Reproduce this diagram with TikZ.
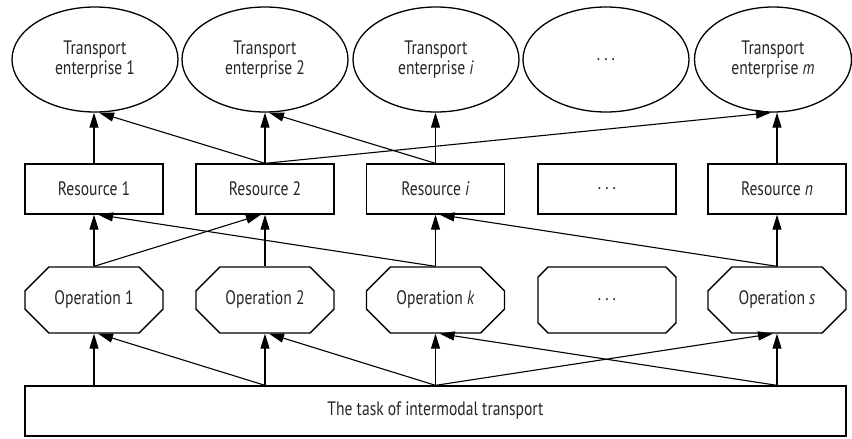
\documentclass[tikz,border=0pt]{standalone}
\usepackage{fontspec}
\setmainfont[FakeStretch=0.8]{PT Sans}
\usetikzlibrary{shapes.geometric,shapes.misc,arrows.meta}
\begin{document}
\begin{tikzpicture}[x=1pt,y=-1pt,
  every node/.style={font=\fontsize{19.5}{19.5}\selectfont, text=black!85, align=center},
  ent/.style={draw, line width=1.3pt, ellipse, minimum width=166pt, minimum height=105pt, inner sep=0pt},
  res/.style={draw, line width=1.3pt, rectangle, minimum width=138pt, minimum height=50pt, inner sep=0pt},
  oper/.style={draw, line width=1.3pt, chamfered rectangle, chamfered rectangle xsep=16pt, chamfered rectangle ysep=15pt, minimum width=138pt, minimum height=66pt, inner sep=0pt},
  task/.style={draw, line width=1.3pt, rectangle, minimum width=821pt, minimum height=50pt, inner sep=0pt},
  arr/.style={line width=1.1pt, -{Triangle[length=15pt,width=9pt]}}
]
\useasboundingbox (0,0) rectangle (852,439);
% enterprises
\node[ent] (E1) at (95,59.5) {Transport\\enterprise 1};
\node[ent] (E2) at (265,59.5) {Transport\\enterprise 2};
\node[ent] (Ei) at (436,59.5) {Transport\\enterprise \textit{i}};
\node[ent] (Ed) at (606,59.5) {.\hspace{4pt}.\hspace{4pt}.};
\node[ent, minimum width=157pt] (Em) at (773,59.5) {Transport\\enterprise \textit{m}};
% resources
\node[res] (R1) at (94,189) {Resource 1};
\node[res] (R2) at (265,189) {Resource 2};
\node[res] (Ri) at (435.5,189) {Resource \textit{i}};
\node[res] (Rd) at (607,189) {.\hspace{4pt}.\hspace{4pt}.};
\node[res] (Rn) at (777,189) {Resource \textit{n}};
% operations
\node[oper] (O1) at (94,300) {Operation 1};
\node[oper] (O2) at (265,300) {Operation 2};
\node[oper] (Ok) at (435.5,300) {Operation \textit{k}};
\node[oper] (Od) at (607,300) {.\hspace{4pt}.\hspace{4pt}.};
\node[oper] (Os) at (777,300) {Operation \textit{s}};
% task
\node[task] (T) at (435.5,411) {The task of intermodal transport};
% anchors on the task box
\coordinate (t1) at (O1.south |- T.north);
\coordinate (t2) at (O2.south |- T.north);
\coordinate (tk) at (Ok.south |- T.north);
\coordinate (ts) at (Os.south |- T.north);
% resources -> enterprises
\draw[arr] (R1.north) -- (R1.north |- E1.south);
\draw[arr] (R2.north) -- ([xshift=4pt]E1.south);
\draw[arr] (R2.north) -- (R2.north |- E2.south);
\draw[arr] (R2.north) -- ([xshift=-2pt]Em.south);
\draw[arr] (Ri.north) -- ([xshift=4pt]E2.south);
\draw[arr] (Ri.north) -- (Ri.north |- Ei.south);
\draw[arr] (Rn.north) -- (Rn.north |- Em.south);
% operations -> resources
\draw[arr] (O1.north) -- (R1.south);
\draw[arr] (O1.north) -- ([xshift=-4pt]R2.south);
\draw[arr] (O2.north) -- (R2.south);
\draw[arr] (Ok.north) -- ([xshift=4pt]R1.south);
\draw[arr] (Ok.north) -- (Ri.south);
\draw[arr] (Os.north) -- ([xshift=4pt]Ri.south);
\draw[arr] (Os.north) -- (Rn.south);
% task -> operations
\draw[arr] (t1) -- (O1.south);
\draw[arr] (t2) -- ([xshift=4pt]O1.south);
\draw[arr] (t2) -- (O2.south);
\draw[arr] (tk) -- ([xshift=4pt]O2.south);
\draw[arr] (tk) -- (Ok.south);
\draw[arr] (tk) -- ([xshift=-4pt]Os.south);
\draw[arr] (ts) -- ([xshift=4pt]Ok.south);
\draw[arr] (ts) -- (Os.south);
\end{tikzpicture}
\end{document}
